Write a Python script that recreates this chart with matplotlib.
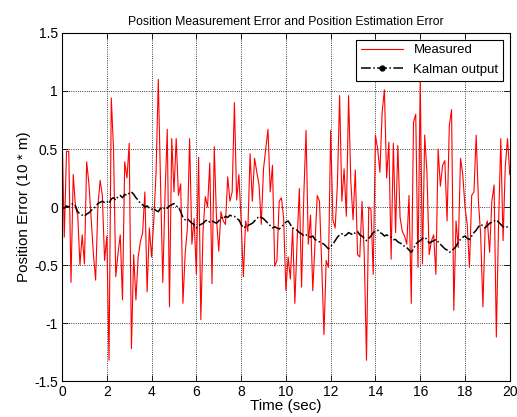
import numpy as np
import matplotlib
matplotlib.use("Agg")
import matplotlib.pyplot as plt
from matplotlib.lines import Line2D

plt.rcParams['font.family'] = ['Liberation Sans', 'DejaVu Sans']
plt.rcParams['axes.unicode_minus'] = False

# time axis, 0.1 s steps
t = np.arange(201) / 10.0

measured = [
    0.67, -0.26, 0.48, 0.48, -0.65, 0.28, 0.00, -0.07, -0.50, -0.24,
    -0.49, 0.39, 0.20, -0.10, -0.40, -0.63, 0.00, 0.23, 0.10, -0.46,
    -0.25, -1.32, 0.94, 0.50, -0.60, -0.40, -0.24, -0.80, 0.39, 0.25,
    0.55, -1.22, -0.41, -0.80, -0.43, -0.30, -0.22, 0.13, -0.73, -0.18,
    -0.43, -0.11, 0.30, 1.10, 0.20, -0.65, 0.10, 0.67, -0.86, 0.59,
    0.13, 0.59, 0.10, 0.20, -0.83, -0.40, -0.18, 0.59, -0.32, -0.10,
    -0.58, 0.43, -0.97, -0.20, 0.09, 0.00, 0.38, -0.66, 0.52, -0.10,
    -0.38, -0.04, -0.12, -0.15, 0.26, 0.05, 0.13, 0.90, 0.06, 0.28,
    -0.12, -0.60, -0.12, -0.21, 0.46, 0.05, 0.42, 0.30, 0.19, -0.15,
    0.33, 0.50, 0.67, 0.13, 0.36, -0.51, -0.46, 0.05, 0.08, -0.10,
    -0.72, -0.43, -0.62, -0.18, -0.83, -0.30, 0.16, -0.69, 0.10, 0.66,
    -0.32, -0.07, -0.72, -0.30, 0.10, 0.05, -0.50, -1.10, -0.46, -0.52,
    0.66, -0.11, -0.18, 0.19, 0.96, 0.05, 0.33, -0.08, 0.96, 0.22,
    -0.11, 0.32, -0.41, -0.43, 0.05, -0.41, -1.32, 0.00, -0.02, -0.58,
    0.62, 0.50, 0.30, 0.82, 1.01, 0.25, 0.56, -0.45, 0.55, -0.22,
    0.53, -0.09, -0.21, -0.25, -0.32, 0.10, -0.83, 0.73, 0.80, -0.52,
    1.10, -0.49, 0.62, 0.30, -0.41, -0.29, -0.24, -0.58, 0.50, 0.18,
    0.36, 0.40, -0.12, 0.70, 0.84, -0.89, -0.12, -0.35, 0.42, 0.28,
    0.00, -0.15, -0.52, 0.10, 0.13, 0.62, 0.05, -0.24, -0.86, -0.18,
    -0.12, -0.39, 0.05, 0.19, -1.12, -0.15, 0.59, -0.29, 0.35, 0.59,
    0.28,
]

kalman = [
    0.00, -0.01, 0.01, 0.00, 0.02, 0.03, 0.01, -0.04, -0.06, -0.07,
    -0.08, -0.06, -0.05, -0.03, -0.01, 0.00, 0.03, 0.04, 0.05, 0.04,
    0.05, 0.03, 0.07, 0.08, 0.06, 0.09, 0.10, 0.08, 0.11, 0.10,
    0.12, 0.13, 0.11, 0.08, 0.06, 0.03, 0.02, 0.00, 0.01, -0.01,
    -0.02, -0.01, -0.03, -0.04, -0.01, -0.02, 0.00, -0.01, 0.01, 0.02,
    0.03, 0.01, 0.00, -0.04, -0.09, -0.11, -0.10, -0.12, -0.14, -0.15,
    -0.18, -0.16, -0.15, -0.14, -0.12, -0.11, -0.13, -0.12, -0.13, -0.14,
    -0.12, -0.09, -0.10, -0.08, -0.09, -0.07, -0.08, -0.08, -0.10, -0.11,
    -0.15, -0.18, -0.17, -0.16, -0.15, -0.14, -0.12, -0.10, -0.08, -0.09,
    -0.10, -0.12, -0.14, -0.16, -0.18, -0.17, -0.18, -0.19, -0.17, -0.15,
    -0.13, -0.12, -0.15, -0.18, -0.19, -0.20, -0.22, -0.23, -0.25, -0.24,
    -0.25, -0.26, -0.25, -0.28, -0.29, -0.30, -0.31, -0.32, -0.34, -0.36,
    -0.34, -0.32, -0.29, -0.26, -0.24, -0.23, -0.25, -0.24, -0.22, -0.23,
    -0.24, -0.22, -0.21, -0.24, -0.25, -0.27, -0.29, -0.27, -0.25, -0.22,
    -0.21, -0.20, -0.22, -0.23, -0.25, -0.24, -0.25, -0.26, -0.28, -0.28,
    -0.30, -0.31, -0.32, -0.34, -0.35, -0.37, -0.39, -0.36, -0.32, -0.30,
    -0.29, -0.27, -0.26, -0.28, -0.31, -0.30, -0.29, -0.28, -0.30, -0.32,
    -0.34, -0.36, -0.37, -0.39, -0.38, -0.36, -0.34, -0.30, -0.28, -0.26,
    -0.25, -0.27, -0.28, -0.25, -0.22, -0.20, -0.17, -0.15, -0.16, -0.18,
    -0.16, -0.14, -0.13, -0.12, -0.11, -0.13, -0.15, -0.17, -0.18, -0.17,
    -0.18,
]

xticks = list(range(0, 21, 2))
yticks = [-1.5, -1, -0.5, 0, 0.5, 1, 1.5]
ytick_labels = ["-1.5", "-1", "-0.5", "0", "0.5", "1", "1.5"]

fig = plt.figure(figsize=(5.17, 4.17), dpi=100)
ax = fig.add_axes([0.12, 0.086, 0.866, 0.835])

ax.plot(t, measured, color="red", lw=0.8)
ax.plot(t, kalman, color="black", ls="-.", lw=1.1)

ax.set_xlim(0, 20)
ax.set_ylim(-1.5, 1.5)
ax.set_xticks(xticks)
ax.set_xticklabels([str(v) for v in xticks])
ax.set_yticks(yticks)
ax.set_yticklabels(ytick_labels)
ax.tick_params(direction="in", top=True, right=True, labelsize=10, length=4, width=0.6, pad=3)
ax.grid(True, color="black", ls=":", lw=0.6)
for s in ax.spines.values():
    s.set_linewidth(0.8)

ax.set_title("Position Measurement Error and Position Estimation Error", fontsize=8.8, pad=6)
ax.set_xlabel("Time (sec)", fontsize=11, labelpad=0)
ax.set_ylabel("Position Error (10 * m)", fontsize=11, labelpad=2)

handles = [Line2D([], [], color="red", lw=0.8),
           Line2D([], [], color="black", ls="-.", lw=1.1, marker=".", markersize=7)]
leg = ax.legend(handles, ["Measured", "Kalman output"], loc="upper right", fontsize=9.5,
                handlelength=3.2, fancybox=False, framealpha=1, edgecolor="black",
                borderaxespad=0.5, borderpad=0.35, labelspacing=0.55, numpoints=1)
leg.get_frame().set_linewidth(0.8)

fig.savefig("out.png", dpi=100)
